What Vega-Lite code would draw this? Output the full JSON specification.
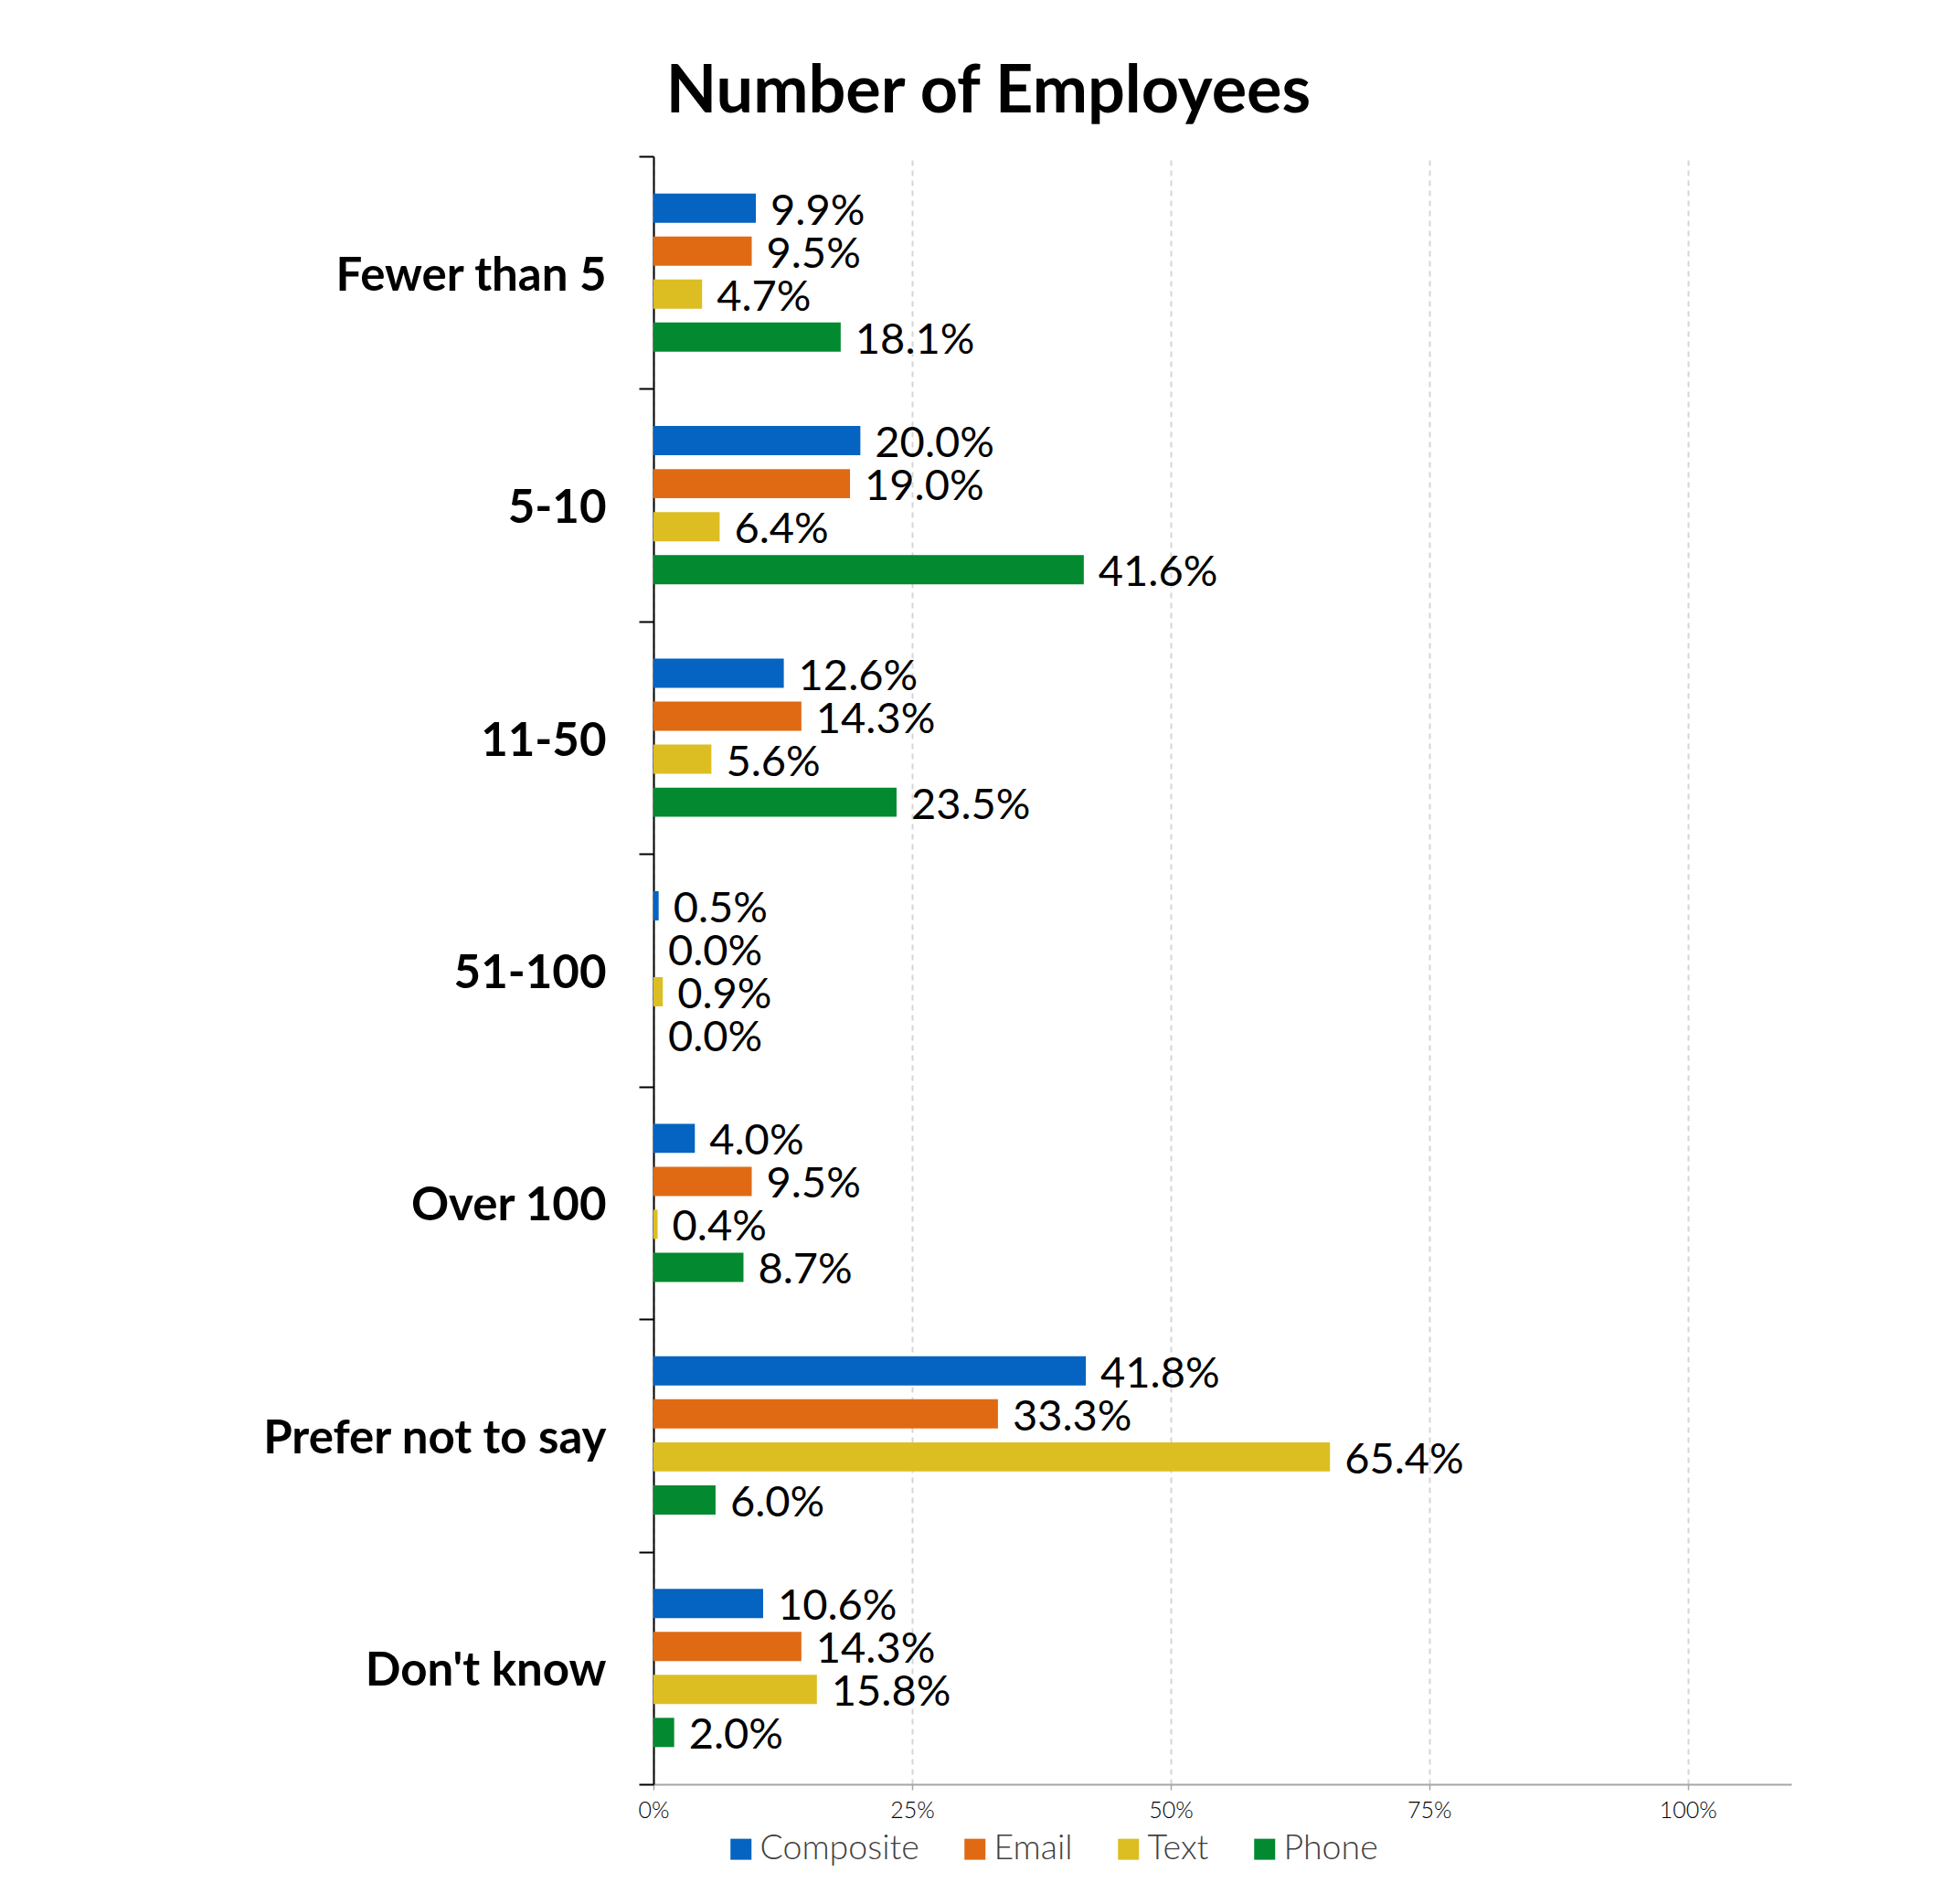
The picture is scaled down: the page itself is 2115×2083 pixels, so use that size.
{
  "$schema": "https://vega.github.io/schema/vega-lite/v6.json",
  "autosize": "none",
  "width": 1245,
  "height": 1781,
  "padding": {"left": 715, "top": 171, "right": 155, "bottom": 131},
  "background": "white",
  "title": {
    "text": "Number of Employees",
    "font": "Lato",
    "fontSize": 72,
    "fontWeight": "bold",
    "color": "black",
    "anchor": "middle",
    "baseline": "alphabetic",
    "dx": -256,
    "offset": -50
  },
  "data": {
    "values": [
      {"size": "Fewer than 5", "mode": "Composite", "share": 0.099},
      {"size": "Fewer than 5", "mode": "Email", "share": 0.095},
      {"size": "Fewer than 5", "mode": "Text", "share": 0.047},
      {"size": "Fewer than 5", "mode": "Phone", "share": 0.181},
      {"size": "5-10", "mode": "Composite", "share": 0.200},
      {"size": "5-10", "mode": "Email", "share": 0.190},
      {"size": "5-10", "mode": "Text", "share": 0.064},
      {"size": "5-10", "mode": "Phone", "share": 0.416},
      {"size": "11-50", "mode": "Composite", "share": 0.126},
      {"size": "11-50", "mode": "Email", "share": 0.143},
      {"size": "11-50", "mode": "Text", "share": 0.056},
      {"size": "11-50", "mode": "Phone", "share": 0.235},
      {"size": "51-100", "mode": "Composite", "share": 0.005},
      {"size": "51-100", "mode": "Email", "share": 0.0},
      {"size": "51-100", "mode": "Text", "share": 0.009},
      {"size": "51-100", "mode": "Phone", "share": 0.0},
      {"size": "Over 100", "mode": "Composite", "share": 0.040},
      {"size": "Over 100", "mode": "Email", "share": 0.095},
      {"size": "Over 100", "mode": "Text", "share": 0.004},
      {"size": "Over 100", "mode": "Phone", "share": 0.087},
      {"size": "Prefer not to say", "mode": "Composite", "share": 0.418},
      {"size": "Prefer not to say", "mode": "Email", "share": 0.333},
      {"size": "Prefer not to say", "mode": "Text", "share": 0.654},
      {"size": "Prefer not to say", "mode": "Phone", "share": 0.060},
      {"size": "Don't know", "mode": "Composite", "share": 0.106},
      {"size": "Don't know", "mode": "Email", "share": 0.143},
      {"size": "Don't know", "mode": "Text", "share": 0.158},
      {"size": "Don't know", "mode": "Phone", "share": 0.020}
    ]
  },
  "encoding": {
    "y": {
      "field": "size",
      "type": "nominal",
      "sort": ["Fewer than 5", "5-10", "11-50", "51-100", "Over 100", "Prefer not to say", "Don't know"],
      "scale": {"paddingInner": 0, "paddingOuter": 0},
      "axis": {
        "title": null,
        "tickBand": "extent",
        "domainColor": "black",
        "domainWidth": 2,
        "tickColor": "black",
        "tickWidth": 2,
        "tickSize": 16,
        "labelFont": "Lato",
        "labelFontSize": 51,
        "labelFontWeight": "bold",
        "labelColor": "black",
        "labelPadding": 36,
        "labelOffset": 4,
        "labelLimit": 1000
      }
    },
    "yOffset": {
      "field": "mode",
      "type": "nominal",
      "sort": ["Composite", "Email", "Text", "Phone"],
      "scale": {"paddingInner": 0.32, "paddingOuter": 0.865}
    },
    "x": {
      "field": "share",
      "type": "quantitative",
      "scale": {"domain": [0, 1.1], "nice": false},
      "axis": {
        "title": null,
        "values": [0, 0.25, 0.5, 0.75, 1],
        "format": ".0%",
        "labelFlush": false,
        "domainColor": "#a6a6a6",
        "domainWidth": 2,
        "tickColor": "#a6a6a6",
        "tickWidth": 1.5,
        "tickSize": 6,
        "labelFont": "Lato",
        "labelFontSize": 25,
        "labelFontWeight": 300,
        "labelColor": "black",
        "labelPadding": 10,
        "grid": true,
        "gridColor": "#d6d6d6",
        "gridWidth": 2,
        "gridDash": [6, 5]
      }
    }
  },
  "layer": [
    {
      "mark": {"type": "bar"},
      "encoding": {
        "color": {
          "field": "mode",
          "type": "nominal",
          "scale": {
            "domain": ["Composite", "Email", "Text", "Phone"],
            "range": ["#0563C1", "#E06A13", "#DDBE22", "#03892F"]
          },
          "legend": {
            "title": null,
            "orient": "none",
            "direction": "horizontal",
            "legendX": 77,
            "legendY": 1833,
            "padding": 0,
            "symbolType": "square",
            "symbolSize": 529,
            "symbolStrokeWidth": 0,
            "symbolOpacity": 1,
            "labelFont": "Lato",
            "labelFontSize": 37.5,
            "labelFontWeight": 300,
            "labelColor": "#404040",
            "labelOffset": 2,
            "columnPadding": 42,
            "labelLimit": 400
          }
        }
      }
    },
    {
      "mark": {
        "type": "text",
        "align": "left",
        "baseline": "middle",
        "dx": 16,
        "dy": 4,
        "font": "Lato",
        "fontSize": 47,
        "fontWeight": 400,
        "color": "black"
      },
      "encoding": {
        "text": {"field": "share", "type": "quantitative", "format": ".1%"}
      }
    }
  ],
  "config": {
    "view": {"stroke": null}
  }
}
